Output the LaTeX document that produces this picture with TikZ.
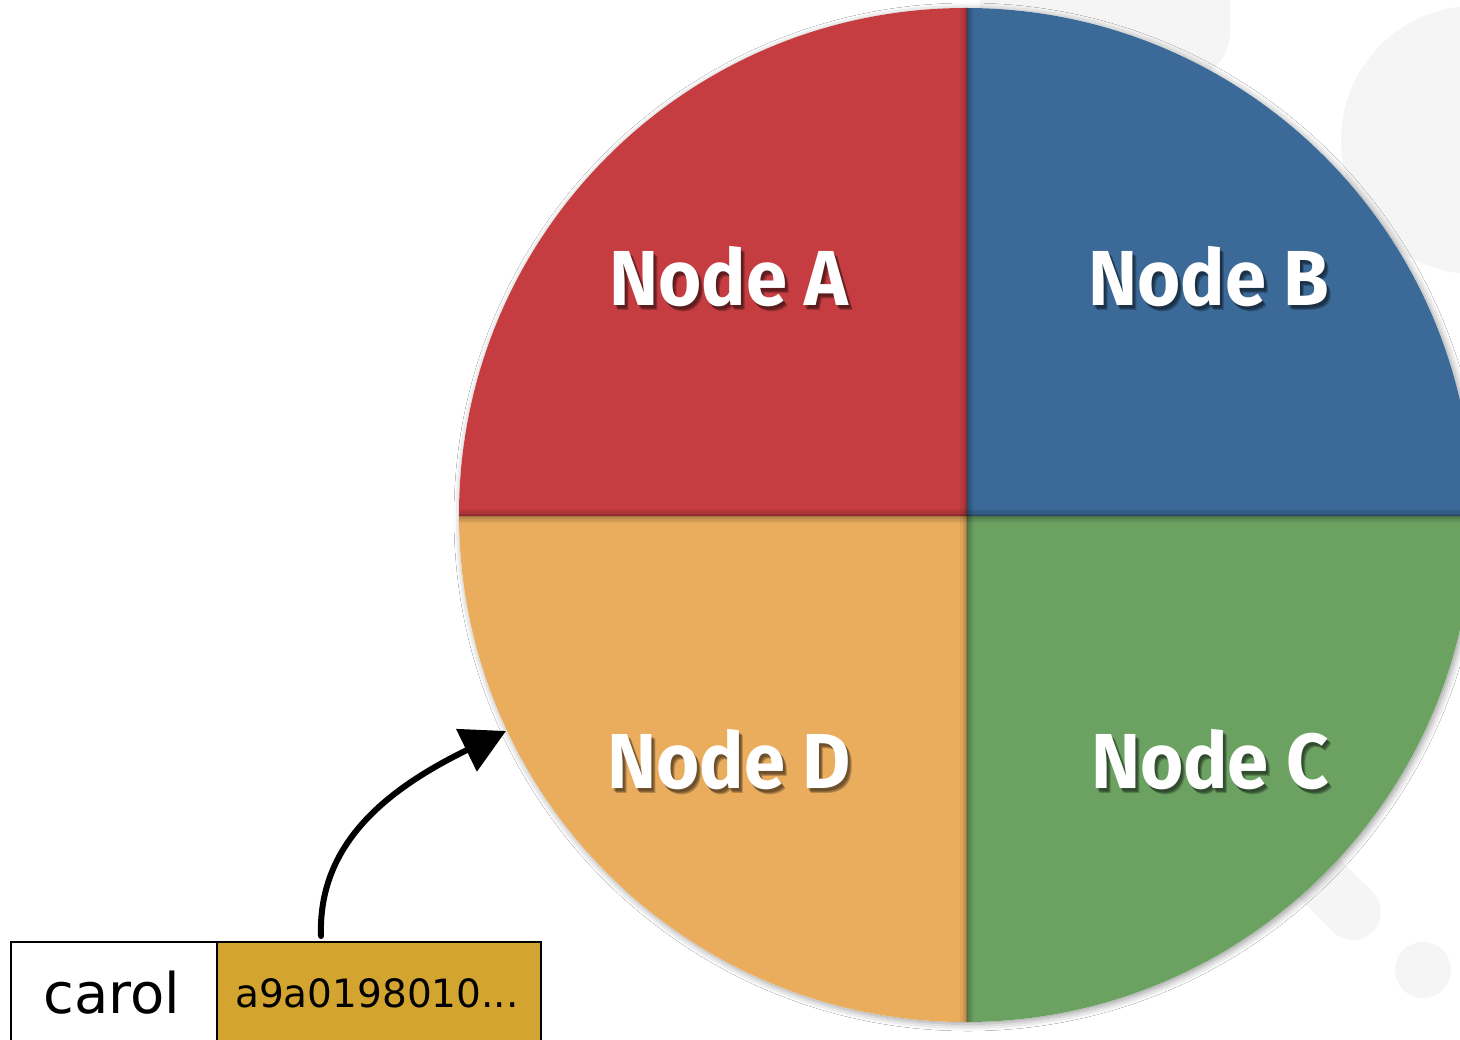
\documentclass[tikz,border=0pt]{standalone}
\usepackage{fontspec}
\setmainfont{DejaVu Sans}
\newfontfamily\labelfont{Fira Sans}
\usetikzlibrary{arrows.meta,shadows.blur}

\definecolor{segA}{HTML}{C63D41}
\definecolor{segB}{HTML}{3B6A98}
\definecolor{segC}{HTML}{6BA262}
\definecolor{segD}{HTML}{EAAC5D}
\definecolor{hashfill}{HTML}{D3A430}
\definecolor{faint}{HTML}{F5F5F5}

\tikzset{
  labeltext/.style={text=white, font=\labelfont\bfseries\fontsize{78}{80}\selectfont, anchor=base, inner sep=0pt},
  labelshadow/.style={labeltext, text=black, text opacity=0.22},
  cell/.style={draw=black, line width=2pt, anchor=north west, minimum height=130pt, inner sep=0pt},
  divider/.style={black, line cap=butt},
  pointer/.style={draw=black, line width=6pt, line cap=round, -{Triangle[length=44pt,width=46pt,fill=black]}},
}

% white label with a soft dark drop shadow
\newcommand\quadlabel[3]{%
  \foreach \dx/\dy [count=\k] in {3/4,4/5,2/3}{%
    \node[labelshadow, xshift=\dx pt, yshift=-\dy pt] (#1-shadow-\k) at (#2) {\scalebox{0.95}[1]{#3}};
  }%
  \node[labeltext] (#1) at (#2) {\scalebox{0.95}[1]{#3}};
}

\begin{document}
\begin{tikzpicture}[x=1pt,y=-1pt]
\clip (0,0) rectangle (1460,1040);
\fill[white] (0,0) rectangle (1460,1040);

% faint background shapes
\fill[faint, rounded corners=45pt] (980,-80) rectangle (1230,78);
\fill[faint] (1475,140) circle [radius=134pt];
\draw[faint, line width=56pt, line cap=round] (1353,912) -- (1250,810);
\fill[faint] (1423,970) circle [radius=28pt];

% the ring
\path[fill=white, blur shadow={shadow blur radius=7pt, shadow xshift=2pt, shadow yshift=-2pt, shadow opacity=40}]
  (966,515) circle [radius=507pt];
\begin{scope}
  \clip (966,515) circle [radius=507pt];
  \fill[segA] (450,0) rectangle (967,516);
  \fill[segB] (967,0) rectangle (1480,516);
  \fill[segC] (967,516) rectangle (1480,1030);
  \fill[segD] (450,516) rectangle (967,1030);
  % soft shading along the dividers
  \foreach \w/\o in {14/0.05,9/0.07,5/0.09,2/0.12}{
    \draw[divider, line width=\w pt, opacity=\o] (450,516) -- (1480,516);
    \draw[divider, line width=\w pt, opacity=\o] (967,0) -- (967,1030);
  }
\end{scope}

% segment labels
\quadlabel{nodeA}{729,306}{Node A}
\quadlabel{nodeB}{1209,306}{Node B}
\quadlabel{nodeD}{729,788}{Node D}
\quadlabel{nodeC}{1210,788}{Node C}

% key / hash pair
\node[cell, fill=white, minimum width=206pt] (key) at (10,941) {};
\node[cell, fill=hashfill, minimum width=324pt] (hash) at (216,941) {};
\node[anchor=base, inner sep=0pt, font=\fontsize{56}{60}\selectfont] (keytext) at (112,1013) {carol};
\node[anchor=base, inner sep=0pt, font=\fontsize{39}{42}\selectfont] (hashtext) at (377,1007) {a9a0198010...};

% pointer from the hash into the ring
\coordinate (tail) at (321,936);
\coordinate (tip) at (506,731);
\draw[pointer] (tail) .. controls (318,845) and (385,790) .. (tip);
\end{tikzpicture}
\end{document}
